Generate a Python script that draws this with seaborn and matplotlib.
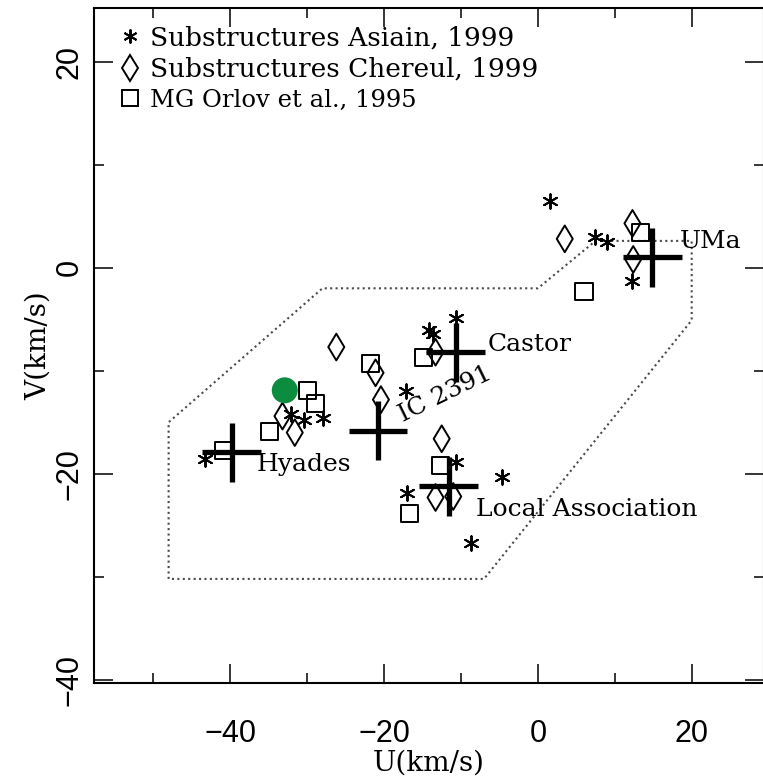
import matplotlib
matplotlib.use("Agg")
import matplotlib.pyplot as plt
import seaborn as sns
import pandas as pd
from matplotlib.lines import Line2D
from matplotlib.ticker import MultipleLocator

# ---------------- data ----------------
asiain_u = [-43.3, -32.1, -30.4, -27.9, -17.2, -14.1, -13.6, -10.7, -10.7, -4.7, -17.0, -8.7, 1.6, 7.4, 9.0, 12.3]
asiain_v = [-18.6, -14.2, -14.8, -14.6, -12.0, -6.0, -6.4, -4.9, -18.9, -20.3, -21.9, -26.7, 6.5, 3.0, 2.5, -1.3]

chereul_u = [-26.2, -33.2, -31.6, -21.1, -20.4, -13.3, -12.5, -13.3, -11.0, 3.5, 12.3, 12.4]
chereul_v = [-7.7, -14.4, -16.0, -10.2, -12.8, -8.2, -16.6, -22.3, -22.2, 2.8, 4.3, 0.8]

orlov_u = [-30.0, -28.9, -34.9, -40.9, -21.7, -14.9, -12.7, -16.7, 13.4, 6.0]
orlov_v = [-11.9, -13.2, -15.9, -17.7, -9.3, -8.7, -19.2, -23.9, 3.4, -2.3]

group_names = ["Hyades", "IC 2391", "Castor", "Local Association", "UMa"]
group_u = [-39.8, -20.8, -10.7, -11.6, 14.9]
group_v = [-17.9, -15.8, -8.2, -21.2, 1.0]
group_du = 3.8
group_dv = 2.85

label_u = [-36.6, -12.0, -6.5, -8.1, 18.5]
label_v = [-19.1, -12.3, -7.5, -23.5, 2.5]
label_rot = [0, 26, 0, 0, 0]
label_ha = ["left", "center", "left", "left", "left"]

poly_u = [-48.0, -48.0, -28.0, 0.0, 7.5, 20.0, 20.0, -7.0, -48.0]
poly_v = [-30.2, -15.0, -2.0, -2.0, 2.6, 2.6, -5.1, -30.2, -30.2]

star_u = [-32.9]
star_v = [-11.9]

legend_labels = ["Substructures Asiain, 1999", "Substructures Chereul, 1999", "MG Orlov et al., 1995"]

# ---------------- style ----------------
sns.set_style("ticks")
plt.rcParams["font.family"] = ["DejaVu Serif"]
plt.rcParams["text.color"] = "black"
plt.rcParams["axes.labelcolor"] = "black"
plt.rcParams["xtick.color"] = "black"
plt.rcParams["ytick.color"] = "black"
plt.rcParams["axes.edgecolor"] = "black"

fig = plt.figure(figsize=(7.63, 7.79), dpi=100)
ax = fig.add_axes([94 / 763, 96 / 779, (764 - 94) / 763, (683 - 8) / 779])

ast_marker = (6, 2, 0)

df_a = pd.DataFrame({"U": asiain_u, "V": asiain_v})
df_c = pd.DataFrame({"U": chereul_u, "V": chereul_v})
df_o = pd.DataFrame({"U": orlov_u, "V": orlov_v})

ax.plot(poly_u, poly_v, ls=(0, (1, 1.6)), lw=1.5, color="#4a4a4a", zorder=1)

sns.scatterplot(data=df_o, x="U", y="V", marker="s", s=150, facecolors="none",
                edgecolor="black", linewidth=1.4, ax=ax, zorder=3)
sns.scatterplot(data=df_c, x="U", y="V", marker="d", s=185, facecolors="none",
                edgecolor="black", linewidth=1.4, ax=ax, zorder=3)
sns.scatterplot(data=df_a, x="U", y="V", marker=ast_marker, s=110, color="black",
                edgecolor="black", linewidth=1.4, ax=ax, zorder=3)

ax.errorbar(group_u, group_v, xerr=group_du, yerr=group_dv, fmt="none",
            ecolor="black", elinewidth=3.8, capsize=0, zorder=4)

ax.scatter(star_u, star_v, s=350, color="#0b8c3f", edgecolor="none", zorder=5)

for name, u, v, r, ha in zip(group_names, label_u, label_v, label_rot, label_ha):
    ax.text(u, v, name, fontsize=18, ha=ha, va="center", rotation=r,
            rotation_mode="anchor", zorder=6)

handles = [
    Line2D([], [], ls="none", marker=ast_marker, markersize=10, color="black", mew=1.4),
    Line2D([], [], ls="none", marker="d", markersize=13.5, mfc="none", mec="black", mew=1.4),
    Line2D([], [], ls="none", marker="s", markersize=12, mfc="none", mec="black", mew=1.4),
]
leg = ax.legend(handles, legend_labels, loc="upper left", bbox_to_anchor=(0.022, 0.99),
                frameon=False, handlelength=0.8, handletextpad=0.35, labelspacing=0.25,
                borderaxespad=0.0, prop={"family": "DejaVu Serif", "size": 19})
leg.get_texts()[2].set_fontsize(17.5)

ax.set_xlim(-57.7, 29.4)
ax.set_ylim(-40.3, 25.2)
ax.xaxis.set_major_locator(MultipleLocator(20))
ax.xaxis.set_minor_locator(MultipleLocator(10))
ax.yaxis.set_major_locator(MultipleLocator(20))
ax.yaxis.set_minor_locator(MultipleLocator(10))
ax.tick_params(which="both", direction="in", top=True, right=True, width=1.1, color="black")
ax.tick_params(which="major", length=14)
ax.tick_params(which="minor", length=7.5)
ax.tick_params(axis="x", which="major", pad=26)
ax.tick_params(axis="y", which="major", pad=7)
for lab in ax.get_xticklabels() + ax.get_yticklabels():
    lab.set_family(["Liberation Sans", "DejaVu Sans"])
    lab.set_fontsize(22)
for lab in ax.get_yticklabels():
    lab.set_rotation(90)
    lab.set_va("center")
for sp in ax.spines.values():
    sp.set_linewidth(1.5)
    sp.set_color("black")

ax.set_xlabel("U(km/s)", fontsize=20, va="center")
ax.set_ylabel("V(km/s)", fontsize=20, va="center")
ax.xaxis.set_label_coords(0.5, (16 - 96) / 675)
ax.yaxis.set_label_coords((38 - 94) / 670, 0.5)

fig.savefig("out.png", dpi=100)
